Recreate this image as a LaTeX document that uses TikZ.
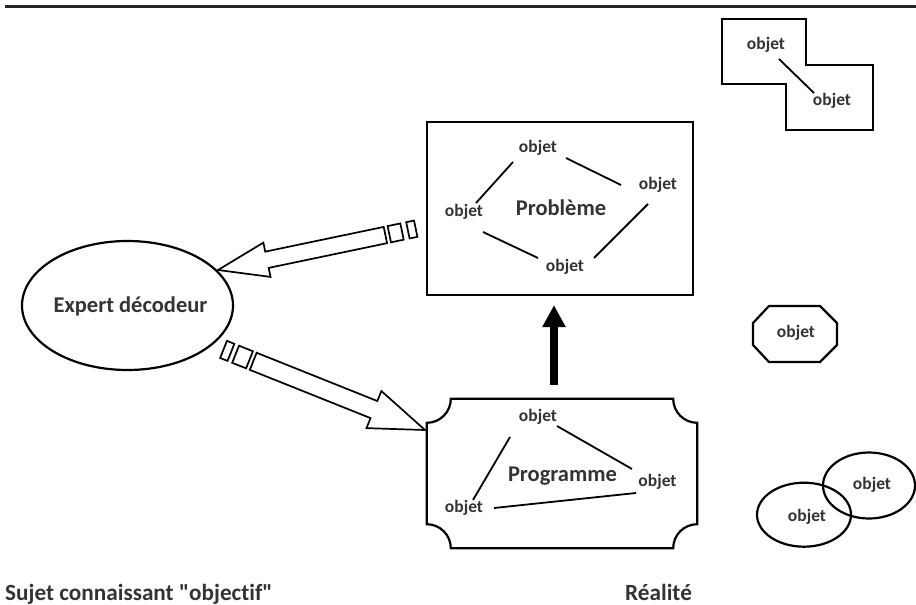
\documentclass[tikz,border=0pt]{standalone}
\usepackage{fontspec}
\setmainfont{Carlito}[Ligatures={TeXOff,NoCommon}]
\usetikzlibrary{shapes.geometric,arrows.meta,calc}
\definecolor{txt}{HTML}{333333}
\begin{document}
\begin{tikzpicture}[x=1pt,y=-1pt,
  obj/.style={font=\fontsize{17.5}{20}\selectfont\bfseries, text=txt, inner sep=0pt},
  big/.style={font=\fontsize{22.5}{26}\selectfont\bfseries, text=txt, inner sep=0pt},
  lab/.style={font=\fontsize{23.2}{26}\selectfont\bfseries, text=txt, inner sep=0pt, anchor=base west},
  shp/.style={draw=black, line width=2.2pt},
  lnk/.style={draw=black, line width=1.8pt},
  blk/.style={draw=black, line width=1.7pt, fill=white, line join=miter},
]
\useasboundingbox (0,0) rectangle (916,605);
\draw[line width=3pt, black!85] (5,6) -- (916,6);

% Probleme box
\node[shp, rectangle, minimum width=266pt, minimum height=173pt, inner sep=0pt] (prob) at (560,208.5) {};
\node[big] (probl) at (561,208) {Problème};
\node[obj] (pa) at (538,148) {objet};
\node[obj] (pb) at (658,185) {objet};
\node[obj] (pc) at (565,267) {objet};
\node[obj] (pd) at (464,212) {objet};
\draw[lnk] ($(pa)+(-25,14)$) -- ($(pd)+(12,-9)$);
\draw[lnk] ($(pa)+(28,10)$) -- ($(pb)+(-37,0)$);
\draw[lnk] ($(pb)+(-10,19)$) -- ($(pc)+(29,-9)$);
\draw[lnk] ($(pd)+(19,20)$) -- ($(pc)+(-27,-9)$);

% Programme plaque
\node[minimum width=270pt, minimum height=149pt, inner sep=0pt] (prog) at (562,473.5) {};
\draw[shp] ($(prog.north west)+(24,0)$) -- ($(prog.north east)+(-24,0)$)
  arc[start angle=180, end angle=270, radius=24pt]
  -- ($(prog.south east)+(0,-24)$)
  arc[start angle=90, end angle=180, radius=24pt]
  -- ($(prog.south west)+(24,0)$)
  arc[start angle=0, end angle=90, radius=24pt]
  -- ($(prog.north west)+(0,24)$)
  arc[start angle=270, end angle=360, radius=24pt] -- cycle;
\node[big] (progl) at (562.5,476) {Programme};
\node[obj] (qa) at (538,417) {objet};
\node[obj] (qb) at (657.5,482) {objet};
\node[obj] (qd) at (464,508) {objet};
\draw[lnk] ($(qa)+(-28,20)$) -- ($(qd)+(9,-8)$);
\draw[lnk] ($(qa)+(19,9)$) -- ($(qb)+(-25.5,-13)$);
\draw[lnk] ($(qd)+(30,0)$) -- ($(qb)+(-21.5,11)$);

% black arrow
\coordinate (ax) at (554,0);
\draw[line width=8pt, -{Triangle[length=22pt,width=22pt]}, shorten <=14pt, shorten >=9pt]
  (ax |- prog.north) -- (ax |- prob.south);

% Expert
\node[shp, ellipse, minimum width=211pt, minimum height=129pt, inner sep=0pt] (exp) at (127.5,305.5) {};
\node[big] (expl) at (130.5,306) {Expert décodeur};

% block arrow 1
\coordinate (t1) at (218,270);
\begin{scope}[shift={(t1)}, rotate=11.8]
\draw[blk] (0,0) -- (50,-17.5) -- (50,-8.3) -- (171,-8.3) -- (171,8.3) -- (50,8.3) -- (50,17.5) -- cycle;
\draw[blk] (175,-8.3) rectangle (188,8.3);
\draw[blk] (194,-8.3) rectangle (202,8.3);
\end{scope}

% block arrow 2
\coordinate (t2) at (425,430);
\begin{scope}[shift={(t2)}, rotate=158.2]
\draw[blk] (0,0) -- (55,-20) -- (55,-9.2) -- (185,-9.2) -- (185,9.2) -- (55,9.2) -- (55,20) -- cycle;
\draw[blk] (189,-9.2) rectangle (204,9.2);
\draw[blk] (209,-9.2) rectangle (217,9.2);
\end{scope}

% top right shape
\draw[shp] (722,19) -- (806,19) -- (806,65) -- (873,65) -- (873,130) -- (786,130) -- (786,84) -- (722,84) -- cycle;
\node[obj] (r1) at (766,45) {objet};
\node[obj] (r2) at (832,101) {objet};
\draw[lnk] ($(r1)+(13,14)$) -- ($(r2)+(-18,-8)$);

% octagon
\draw[shp] (769,306) -- (820,306) -- (837,323) -- (837,345) -- (820,362) -- (769,362) -- (753,345) -- (753,323) -- cycle;
\node[obj] (oc) at (796,333) {objet};

% ellipses
\node[shp, ellipse, minimum width=92pt, minimum height=66pt, inner sep=0pt] (e1) at (869,485.5) {};
\node[shp, ellipse, minimum width=94pt, minimum height=64pt, inner sep=0pt] (e2) at (804,514.7) {};
\node[obj] (e1l) at (872,485) {objet};
\node[obj] (e2l) at (807,517) {objet};

% labels
\node[lab] (sujet) at (5,600) {Sujet connaissant "objectif"};
\node[lab] (real) at (625,600) {Réalité};
\end{tikzpicture}
\end{document}
